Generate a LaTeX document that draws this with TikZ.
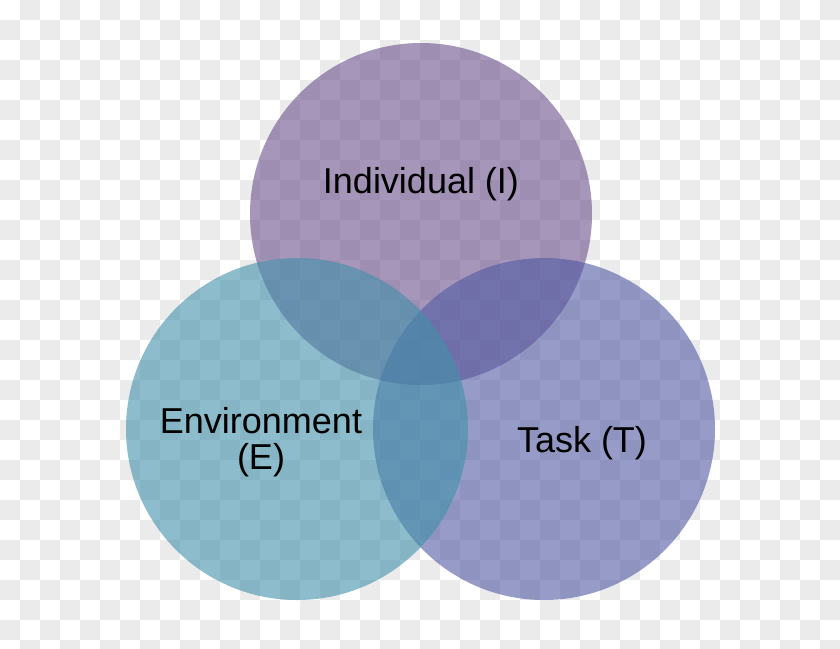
\documentclass[tikz,border=0pt]{standalone}
\usepackage{fontspec}
\setmainfont{Liberation Sans}
\definecolor{checkgray}{HTML}{EBEBEB}
\definecolor{indcol}{HTML}{6B508C}
\definecolor{envcol}{HTML}{4191AA}
\definecolor{taskcol}{HTML}{505AA3}
\tikzset{
  venn/.style={circle, minimum size=342pt, inner sep=0pt, fill opacity=0.6, draw=none},
  lbl/.style={inner sep=0pt, text=black, font=\fontsize{36}{36}\selectfont, align=center}
}
\begin{document}
\begin{tikzpicture}[x=1pt,y=-1pt]
\useasboundingbox (0,0) rectangle (840,648);
\clip (0,0) rectangle (840,648);
% checkerboard background
\fill[white] (0,0) rectangle (840,648);
\foreach \i in {0,...,20}{
  \foreach \j in {0,...,16}{
    \fill[checkgray] (40*\i+20,40*\j) rectangle +(20,20);
    \fill[checkgray] (40*\i,40*\j+20) rectangle +(20,20);
  }
}
% circles
\node[venn, fill=indcol] (ind) at (421,214) {};
\node[venn, fill=taskcol] (task) at (544,429) {};
\node[venn, fill=envcol] (env) at (297,429) {};
% labels
\node[lbl, anchor=base] (indl) at (421,193) {Individual (I)};
\node[lbl, anchor=north] (envl) at (261,407) {Environment\\(E)};
\node[lbl, anchor=base] (taskl) at (582,452) {Task (T)};
\end{tikzpicture}
\end{document}
